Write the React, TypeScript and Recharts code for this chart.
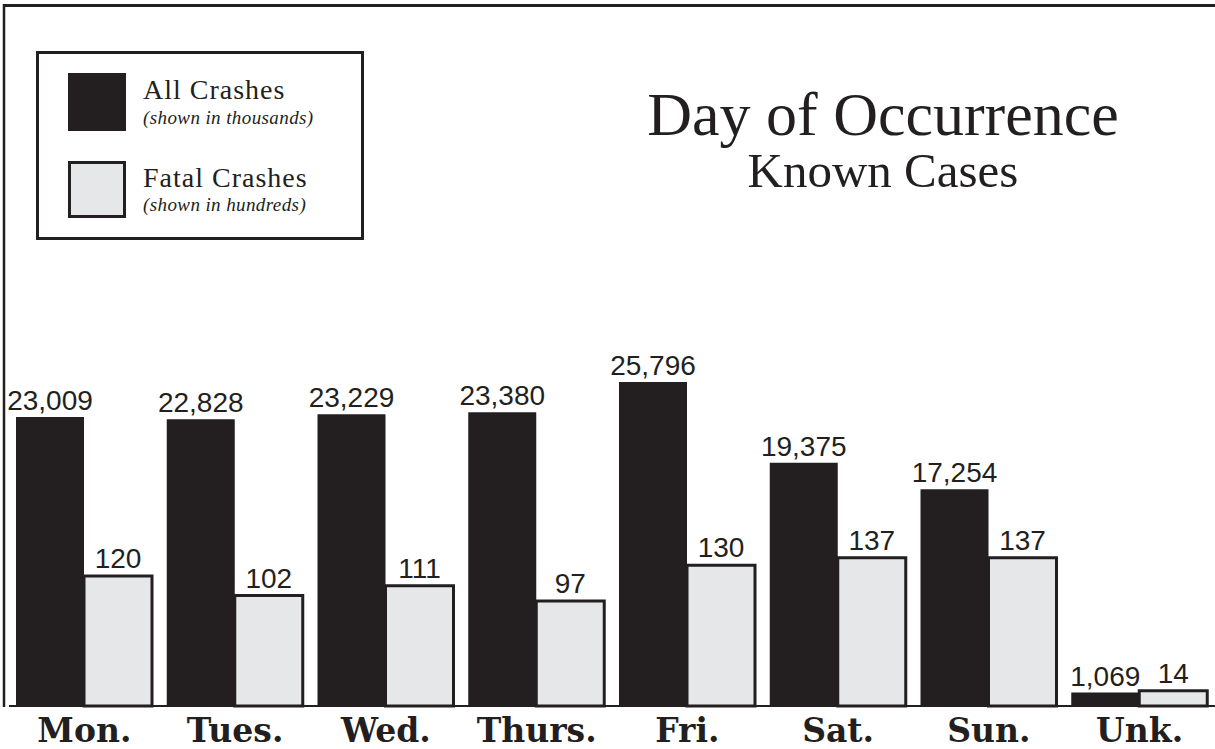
import { BarChart, Bar, XAxis, YAxis, LabelList } from 'recharts';

const days = ['Mon.', 'Tues.', 'Wed.', 'Thurs.', 'Fri.', 'Sat.', 'Sun.', 'Unk.'];
const allCrashes = [23009, 22828, 23229, 23380, 25796, 19375, 17254, 1069];
const fatalCrashes = [120, 102, 111, 97, 130, 137, 137, 14];

const INK = '#231f20';
const LIGHT = '#e6e7e8';
const SERIF = '"Liberation Serif", "Times New Roman", serif';
const SANS = '"Liberation Sans", Arial, sans-serif';

const data = days.map((day, i) => ({ day, all: allCrashes[i], fatal: fatalCrashes[i] }));

const fmt = (v: any) => Number(v).toLocaleString('en-US');

export default function App() {
  return (
    <div style={{ position: 'absolute', left: 0, top: 0, width: 1215, height: 749, background: '#fff' }}>
      <BarChart
        width={1215}
        height={749}
        data={data}
        margin={{ top: 78, right: 0, left: 9, bottom: 0 }}
        barCategoryGap={7}
        barGap={0}
      >
        <XAxis
          dataKey="day"
          height={43}
          axisLine={{ stroke: INK, strokeWidth: 2 }}
          tickLine={false}
          tickSize={0}
          tickMargin={13}
          interval={0}
          tick={{ fill: INK, fontSize: 33, fontWeight: 'bold', fontFamily: '"DejaVu Serif", serif' }}
        />
        <YAxis yAxisId="all" hide domain={[0, 50000]} />
        <YAxis yAxisId="fatal" hide domain={[0, 580]} />
        <Bar yAxisId="all" dataKey="all" fill={INK} isAnimationActive={false}>
          <LabelList dataKey="all" position="top" offset={7} formatter={fmt}
            style={{ fill: INK, fontSize: 28, fontFamily: SANS }} />
        </Bar>
        <Bar yAxisId="fatal" dataKey="fatal" fill={LIGHT} stroke={INK} strokeWidth={3} isAnimationActive={false}>
          <LabelList dataKey="fatal" position="top" offset={8} formatter={fmt}
            style={{ fill: INK, fontSize: 28, fontFamily: SANS, stroke: 'none' }} />
        </Bar>
      </BarChart>

      <svg width={1215} height={749} style={{ position: 'absolute', left: 0, top: 0, pointerEvents: 'none' }}>
        {/* frame */}
        <line x1={3} y1={5.5} x2={1215} y2={5.5} stroke={INK} strokeWidth={3} />
        <line x1={4} y1={4} x2={4} y2={707} stroke={INK} strokeWidth={2.5} />

        {/* title */}
        <text x={883} y={135} textAnchor="middle" fill={INK} fontSize={62} fontFamily={SERIF}>Day of Occurrence</text>
        <text x={883} y={187} textAnchor="middle" fill={INK} fontSize={49} fontFamily={SERIF}>Known Cases</text>

        {/* legend */}
        <rect x={37.5} y={52.5} width={325} height={186} fill="#fff" stroke={INK} strokeWidth={3} />
        <rect x={68} y={73} width={58} height={58} fill={INK} />
        <text x={143} y={99} fill={INK} fontSize={28} letterSpacing={1} fontFamily={SERIF}>All Crashes</text>
        <text x={143} y={124} fill={INK} fontSize={19} letterSpacing={0.4} fontStyle="italic" fontFamily={SERIF}>(shown in thousands)</text>
        <rect x={69.5} y={162.5} width={55} height={54} fill={LIGHT} stroke={INK} strokeWidth={3} />
        <text x={143} y={187} fill={INK} fontSize={28} letterSpacing={1} fontFamily={SERIF}>Fatal Crashes</text>
        <text x={143} y={211} fill={INK} fontSize={19} letterSpacing={0.4} fontStyle="italic" fontFamily={SERIF}>(shown in hundreds)</text>
      </svg>
    </div>
  );
}
